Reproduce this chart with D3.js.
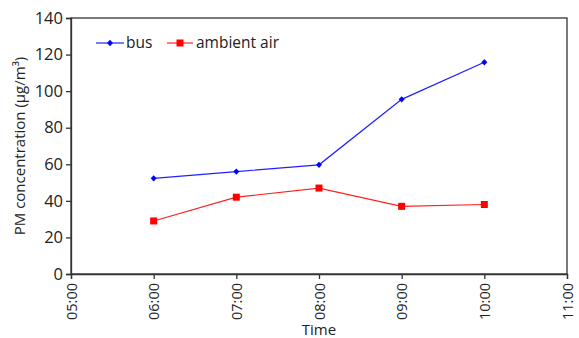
<!DOCTYPE html>
<html><head><meta charset="utf-8">
<script src="https://cdn.jsdelivr.net/npm/d3@7"></script>
<style>body{margin:0;background:#fff}svg{display:block}text{font-family:"Open Sans",sans-serif;fill:#222}</style>
</head><body><svg id="c" width="579" height="338"></svg>
<script>
const times = ["05:00","06:00","07:00","08:00","09:00","10:00","11:00"];
const dataTimes = ["06:00","07:00","08:00","09:00","10:00"];
const busValues = [52.3, 56, 59.7, 95.5, 115.8];
const ambientValues = [29, 42, 47, 37, 38];
const yTicks = [0,20,40,60,80,100,120,140];

const svg = d3.select("#c");
const L=71, R=567, T=18, B=274;
const x = d3.scalePoint().domain(times).range([L,R]);
const y = d3.scaleLinear().domain([0,140]).range([B,T]);

svg.append("rect").attr("x",L).attr("y",T).attr("width",R-L).attr("height",B-T)
  .attr("fill","none").attr("stroke","#333").attr("stroke-width",1.3);

const ya = svg.append("g").attr("transform",`translate(${L},0)`)
  .call(d3.axisLeft(y).tickValues(yTicks).tickSize(5).tickPadding(3));
ya.select(".domain").attr("stroke","#333").attr("stroke-width",1.3);
ya.selectAll(".tick line").attr("stroke","#333").attr("stroke-width",1.3);
ya.selectAll("text").style("font-size","16.5px").attr("fill","#222");

const xa = svg.append("g").attr("transform",`translate(0,${B})`)
  .call(d3.axisBottom(x).tickSize(5).tickPadding(0));
xa.select(".domain").attr("stroke","#333").attr("stroke-width",1.3);
xa.selectAll(".tick line").attr("stroke","#333").attr("stroke-width",1.3);
xa.selectAll("text").style("font-size","14.5px").attr("fill","#222")
  .attr("transform","rotate(-90)").attr("text-anchor","end")
  .attr("x",-9).attr("y",0).attr("dy","0.35em");

svg.append("text").attr("x",(L+R)/2).attr("y",335).attr("text-anchor","middle")
  .style("font-size","15px").text("Time");
svg.append("text").attr("transform",`translate(25,${(T+B)/2}) rotate(-90)`)
  .attr("text-anchor","middle").style("font-size","15px").text("PM concentration (µg/m³)");

const line = d3.line().x(d=>x(d[0])).y(d=>y(d[1]));
const bus = dataTimes.map((t,i)=>[t,busValues[i]]);
const amb = dataTimes.map((t,i)=>[t,ambientValues[i]]);

svg.append("path").datum(amb).attr("d",line).attr("fill","none").attr("stroke","#ff2020").attr("stroke-width",1.2);
svg.selectAll(".sq").data(amb).join("rect").attr("x",d=>x(d[0])-3.5).attr("y",d=>y(d[1])-3.5)
  .attr("width",7).attr("height",7).attr("fill","#ff0000");
svg.append("path").datum(bus).attr("d",line).attr("fill","none").attr("stroke","#2020ff").attr("stroke-width",1.2);
const diamond = "M0,-3.2L3,0L0,3.2L-3,0Z";
svg.selectAll(".dm").data(bus).join("path").attr("d",diamond)
  .attr("transform",d=>`translate(${x(d[0])},${y(d[1])})`).attr("fill","#0000ff");

const ly=43;
svg.append("line").attr("x1",96).attr("x2",124).attr("y1",ly).attr("y2",ly).attr("stroke","#2020ff").attr("stroke-width",1.2);
svg.append("path").attr("d",diamond).attr("transform",`translate(110,${ly})`).attr("fill","#0000ff");
svg.append("text").attr("x",126).attr("y",ly).attr("dy","0.35em").style("font-size","15.5px").text("bus");
svg.append("line").attr("x1",167).attr("x2",193).attr("y1",ly).attr("y2",ly).attr("stroke","#ff2020").attr("stroke-width",1.2);
svg.append("rect").attr("x",176.5).attr("y",ly-3.5).attr("width",7).attr("height",7).attr("fill","#ff0000");
svg.append("text").attr("x",196).attr("y",ly).attr("dy","0.35em").style("font-size","15.5px").text("ambient air");
</script></body></html>
